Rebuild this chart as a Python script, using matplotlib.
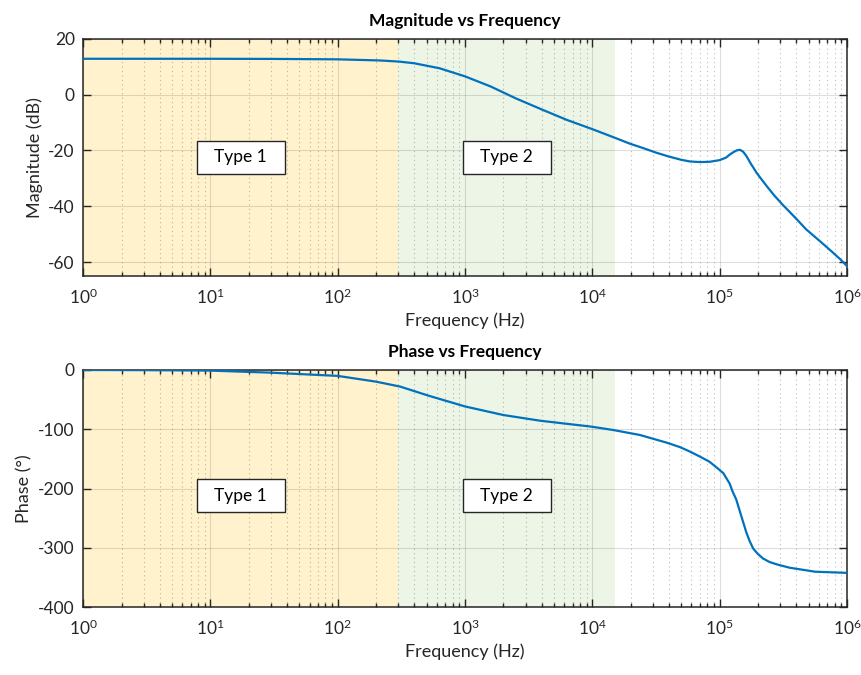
import matplotlib
matplotlib.use('Agg')
import matplotlib.pyplot as plt

plt.rcParams['font.family'] = ['Lato', 'DejaVu Sans']
plt.rcParams['mathtext.fontset'] = 'custom'
plt.rcParams['mathtext.rm'] = 'Lato'
plt.rcParams['axes.unicode_minus'] = False

# 周波数応答（読み取り値）
mag_freq = [1, 10, 31.6, 100, 214, 302, 398, 631, 1000, 1585, 2512, 3981, 6310,
            10000, 15850, 19720, 25120, 31620, 39810, 50120, 58880, 70790, 83180,
            100000, 112200, 120200, 128800, 136500, 144500, 153100, 162200,
            173800, 195000, 207000, 234400, 269200, 316200, 398100, 478600,
            616600, 776200, 891300, 1000000]
mag_db = [12.8, 12.8, 12.75, 12.6, 12.2, 11.8, 11.2, 9.4, 6.5, 2.9, -1.4, -5.3, -9.1,
          -12.4, -15.9, -17.6, -19.2, -20.8, -22.2, -23.4, -24.0, -24.2, -24.1,
          -23.5, -22.6, -21.5, -20.6, -20.0, -19.8, -20.5, -22.0,
          -24.4, -28.0, -29.6, -32.8, -36.2, -39.7, -44.4, -48.3,
          -52.6, -56.6, -59.1, -61.4]

ph_freq = [1, 3.16, 10, 29.5, 100, 200, 309, 525, 635, 1000, 1995, 3882, 9886,
           14590, 23660, 38370, 48750, 58340, 70000, 83180, 95500, 107200,
           120200, 125900, 134900, 141300, 147900, 154900, 162200, 172600,
           183600, 199500, 218800, 245500, 281800, 354800, 562300, 1000000]
ph_deg = [0, -0.3, -1.1, -4.5, -10, -19.7, -28, -43.8, -49, -61.5, -75.9, -85.5, -95.6,
          -101.2, -109.6, -122.5, -130, -137.5, -146, -154.6, -165, -174.2,
          -192, -204, -218, -232, -246, -260, -274, -289,
          -301, -310, -317.6, -323.5, -327.7, -333.3, -340, -342]

# 領域の区切り (Hz)
region_edges = [1, 300, 15000]
region_names = ['Type 1', 'Type 2']
region_colors = ['#FFF2CC', '#EDF5E6']

line_color = '#0072BD'
axis_color = '#262626'

fig = plt.figure(figsize=(8.62, 6.75), dpi=100)
ax1 = fig.add_axes([0.0965, 0.5911, 0.886, 0.3516])
ax2 = fig.add_axes([0.0965, 0.1003, 0.886, 0.3516])


def style_axes(ax, ylim, yticks, ylabel, title, text_y):
    for i, name in enumerate(region_names):
        lo, hi = region_edges[i], region_edges[i + 1]
        ax.axvspan(lo, hi, color=region_colors[i], lw=0, zorder=0)
        ax.text((lo * hi) ** 0.5, text_y, '  ' + name + '  ', ha='center', va='center',
                fontsize=12.5, zorder=5,
                bbox=dict(boxstyle='square,pad=0.5', fc='white', ec=axis_color, lw=1.0))
    ax.set_xscale('log')
    ax.set_xlim(1, 1e6)
    ax.set_ylim(*ylim)
    ax.set_yticks(yticks)
    ax.set_xticks([10 ** k for k in range(7)])
    ax.set_axisbelow(True)
    ax.grid(True, which='major', color=axis_color, alpha=0.15, lw=0.8, ls='-')
    ax.grid(True, which='minor', axis='x', color=axis_color, alpha=0.3, lw=0.8,
            ls=(0, (1, 3)))
    ax.tick_params(which='both', direction='in', top=True, right=True,
                   colors=axis_color, labelsize=12.5, width=1.0)
    ax.tick_params(which='major', length=5.5, pad=6)
    ax.tick_params(which='minor', length=3)
    ax.tick_params(axis='x', pad=8)
    for sp in ax.spines.values():
        sp.set_color(axis_color)
        sp.set_linewidth(1.1)
    ax.set_xlabel('Frequency (Hz)', fontsize=13, color=axis_color, labelpad=4)
    ax.set_ylabel(ylabel, fontsize=13, color=axis_color)
    ax.set_title(title, fontsize=12.5, fontweight='bold', pad=9)


style_axes(ax1, (-65, 20), [-60, -40, -20, 0, 20], 'Magnitude (dB)',
           'Magnitude vs Frequency', -22.5)
ax1.plot(mag_freq, mag_db, color=line_color, lw=1.6, zorder=3)

style_axes(ax2, (-400, 0), [-400, -300, -200, -100, 0], 'Phase (°)',
           'Phase vs Frequency', -212)
ax2.plot(ph_freq, ph_deg, color=line_color, lw=1.6, zorder=3)

fig.savefig('out.png', dpi=100)
